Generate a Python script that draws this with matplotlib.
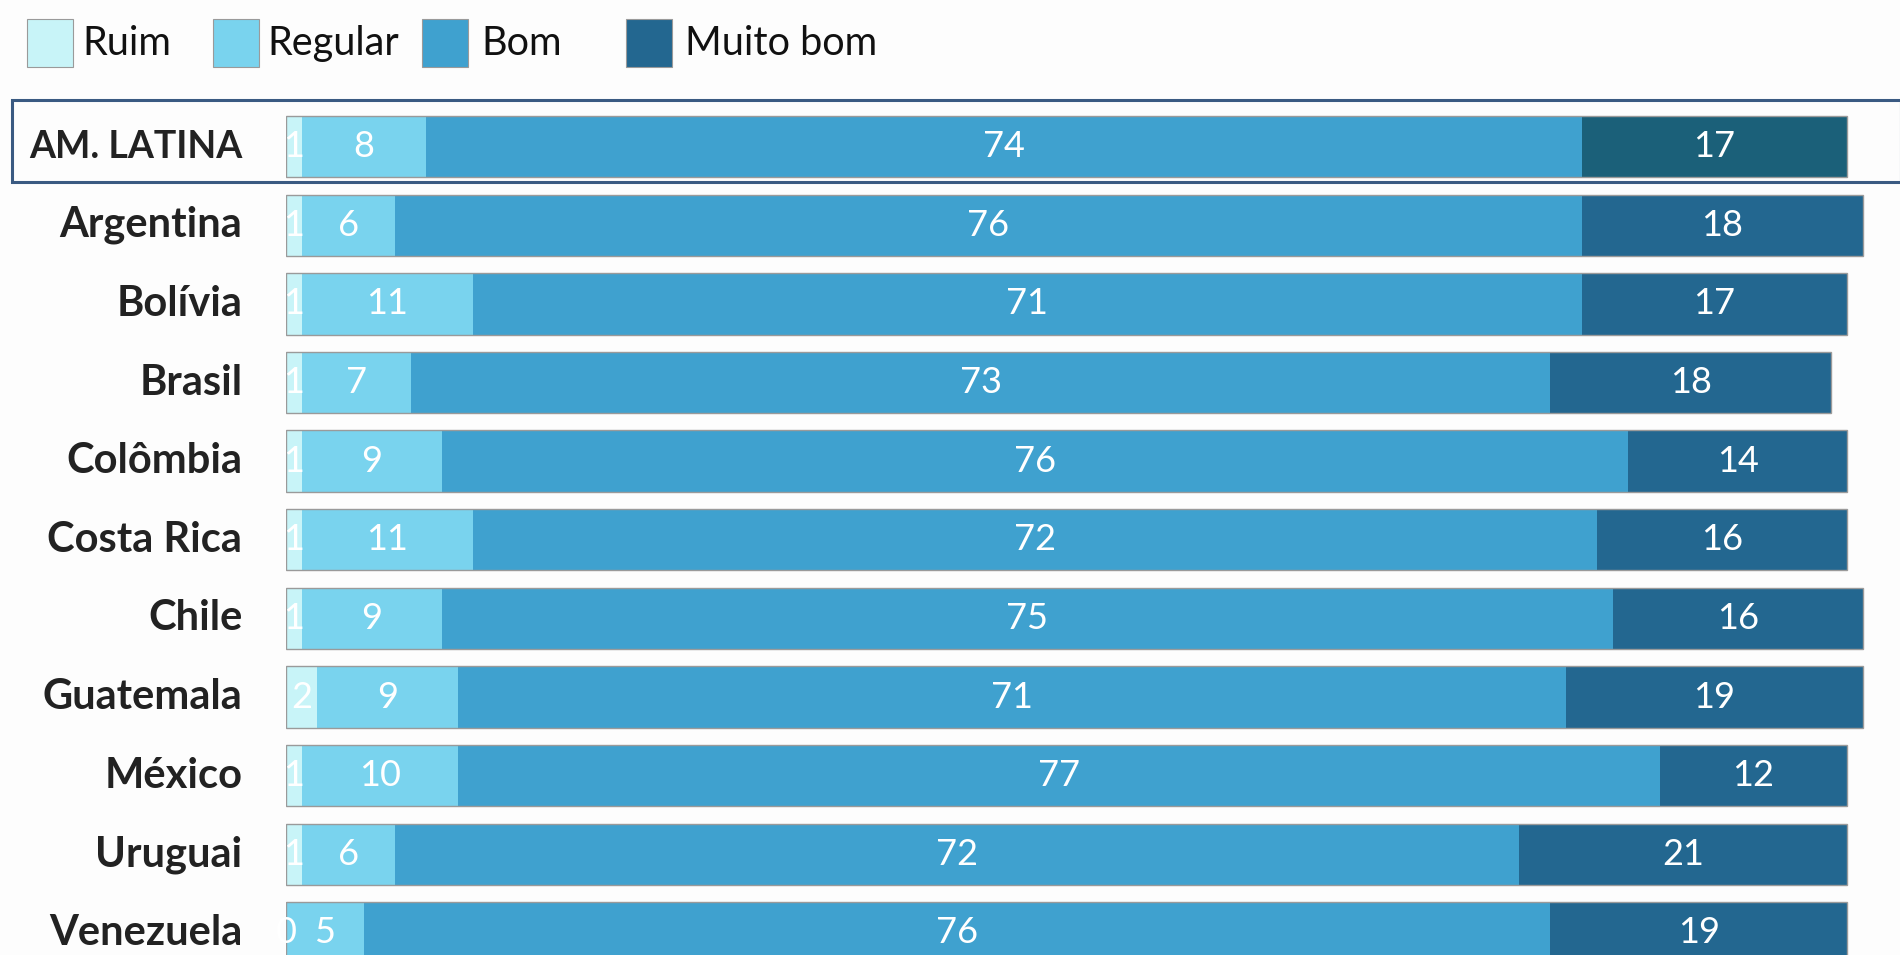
import matplotlib
matplotlib.use('Agg')
import matplotlib.pyplot as plt
from matplotlib.patches import Rectangle
import numpy as np

countries = ['AM. LATINA', 'Argentina', 'Bolívia', 'Brasil', 'Colômbia', 'Costa Rica',
             'Chile', 'Guatemala', 'México', 'Uruguai', 'Venezuela']
ruim = [1, 1, 1, 1, 1, 1, 1, 2, 1, 1, 0]
regular = [8, 6, 11, 7, 9, 11, 9, 9, 10, 6, 5]
bom = [74, 76, 71, 73, 76, 72, 75, 71, 77, 72, 76]
muito_bom = [17, 18, 17, 18, 14, 16, 16, 19, 12, 21, 19]

series_names = ['Ruim', 'Regular', 'Bom', 'Muito bom']
colors = ['#c8f4f8', '#79d3ee', '#3fa1cf', '#236790']
highlight_color = '#1b6079'

plt.rcParams['font.family'] = ['Lato', 'DejaVu Sans']

fig = plt.figure(figsize=(19, 9.55), dpi=100)
fig.patch.set_facecolor('#fdfdfd')
ax = fig.add_axes([286 / 1900, 0, 1 - 286 / 1900, 1])
ax.set_facecolor('none')

y = np.arange(len(countries))
data = [ruim, regular, bom, muito_bom]
left = np.zeros(len(countries))
h = 0.78
for i, (vals, col) in enumerate(zip(data, colors)):
    vals = np.array(vals, dtype=float)
    cols = [col] * len(countries)
    if i == 3:
        cols[0] = highlight_color
    ax.barh(y, vals, left=left, height=h, color=cols, linewidth=0)
    for yy, l, v in zip(y, left, vals):
        ax.text(l + v / 2, yy, f'{int(v)}', ha='center', va='center',
                color='white', fontsize=26)
    left += vals

# thin outline round each bar
ax.barh(y, left, height=h, fill=False, edgecolor='#9a9a9a', linewidth=1)

for yy, name in zip(y, countries):
    size = 27 if yy == 0 else 30
    ax.text(-2.8, yy, name, ha='right', va='center', fontsize=size,
            fontweight='bold', color='#222222')

ax.add_patch(Rectangle((-17.55, -0.59), 121, 1.04, fill=False,
                       edgecolor='#3a5a82', linewidth=2.2, clip_on=False))

ax.set_xlim(0, (1900 - 286) / 15.61)
ax.set_ylim(10.28, -1.864)
ax.axis('off')

# legend, placed by hand like the original
patch_x = [27, 213, 422, 626]
text_x = [82, 267, 481, 685]
for px, tx, name, col in zip(patch_x, text_x, series_names, colors):
    fig.patches.append(Rectangle((px / 1900, 1 - 67 / 955), 46 / 1900, 48 / 955,
                                 transform=fig.transFigure, facecolor=col,
                                 edgecolor='#9a9a9a', linewidth=0.8))
    fig.text(tx / 1900, 1 - 43 / 955, name, ha='left', va='center',
             fontsize=28.5, color='#111111')

fig.savefig('out.png', dpi=100, facecolor=fig.get_facecolor())
